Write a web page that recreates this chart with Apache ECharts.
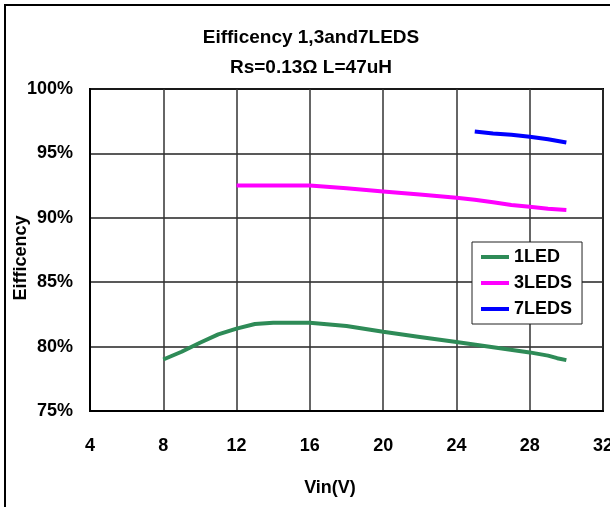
<!DOCTYPE html>
<html>
<head>
<meta charset="utf-8">
<script src="https://cdn.jsdelivr.net/npm/echarts@6/dist/echarts.min.js"></script>
<style>
  html, body { margin: 0; padding: 0; background: #fff; }
  #chart { width: 610px; height: 507px; }
</style>
</head>
<body>
<div id="chart"></div>
<script>
// Vin(V) / efficiency (%) pairs
var led1 = [[8, 79.0], [9, 79.6], [10, 80.3], [11, 80.95], [12, 81.4], [13, 81.75], [14, 81.85],
            [16, 81.85], [18, 81.6], [20, 81.15], [22, 80.75], [24, 80.35], [26, 79.95],
            [28, 79.55], [29, 79.3], [29.5, 79.1], [30, 78.95]];
var led3 = [[12, 92.5], [14, 92.5], [16, 92.5], [18, 92.3], [20, 92.05], [22, 91.8], [24, 91.55],
            [25, 91.4], [26, 91.2], [27, 91.0], [28, 90.85], [29, 90.7], [30, 90.6]];
var led7 = [[25, 96.7], [26, 96.55], [27, 96.45], [28, 96.3], [29, 96.1], [30, 95.85]];

var seriesNames = ['1LED', '3LEDS', '7LEDS'];
var seriesColors = ['#2e8b57', '#ff00ff', '#0000ff'];
var seriesData = [led1, led3, led7];

var font = 'Arial, "Liberation Sans", sans-serif';

var myChart = echarts.init(document.getElementById('chart'));

var option = {
    animation: false,
    backgroundColor: '#fff',
    title: {
        text: 'Eifficency 1,3and7LEDS\nRs=0.13Ω L=47uH',
        left: 306,
        textAlign: 'center',
        top: 18,
        textStyle: {
            fontFamily: font,
            fontWeight: 'bold',
            fontSize: 19,
            lineHeight: 30,
            color: '#000'
        }
    },
    graphic: [{
        type: 'polyline',
        shape: { points: [[5, 520], [5, 5], [620, 5]] },
        style: { stroke: '#000', lineWidth: 2, fill: null }
    }],
    legend: {
        orient: 'vertical',
        left: 472,
        top: 242,
        width: 103,
        backgroundColor: '#fff',
        borderColor: '#222',
        borderWidth: 1,
        padding: [6, 10, 6, 9],
        itemGap: 8,
        itemWidth: 28,
        itemHeight: 4,
        icon: 'rect',
        data: seriesNames,
        textStyle: {
            fontFamily: font,
            fontWeight: 'bold',
            fontSize: 18,
            lineHeight: 18,
            color: '#000'
        }
    },
    grid: {
        left: 90,
        top: 89,
        width: 513,
        height: 322,
        outerBoundsMode: 'none',
        containLabel: false,
        show: true,
        borderColor: '#000',
        borderWidth: 2
    },
    xAxis: {
        type: 'value',
        min: 4,
        max: 32,
        interval: 4,
        name: 'Vin(V)',
        nameLocation: 'middle',
        nameGap: 68,
        nameMoveOverlap: false,
        nameTextStyle: {
            fontFamily: font,
            fontWeight: 'bold',
            fontSize: 18,
            color: '#000',
            padding: [0, 33, 0, 0]
        },
        axisLine: { lineStyle: { color: '#000', width: 2 } },
        axisTick: { show: false },
        axisLabel: {
            margin: 26,
            fontFamily: font,
            fontWeight: 'bold',
            fontSize: 18,
            color: '#000'
        },
        splitLine: { show: true, lineStyle: { color: '#333', width: 1.5 } }
    },
    yAxis: {
        type: 'value',
        min: 75,
        max: 100,
        interval: 5,
        name: 'Eifficency',
        nameLocation: 'middle',
        nameGap: 60,
        nameMoveOverlap: false,
        nameTextStyle: {
            fontFamily: font,
            fontWeight: 'bold',
            fontSize: 18,
            color: '#000',
            padding: [0, 16, 0, 0]
        },
        axisLine: { show: true, lineStyle: { color: '#000', width: 2 } },
        axisTick: { show: false },
        axisLabel: {
            margin: 17,
            formatter: '{value}%',
            fontFamily: font,
            fontWeight: 'bold',
            fontSize: 18,
            color: '#000'
        },
        splitLine: { show: true, lineStyle: { color: '#222', width: 1.5 } }
    },
    series: seriesNames.map(function (name, i) {
        return {
            name: name,
            type: 'line',
            data: seriesData[i],
            showSymbol: false,
            symbol: 'none',
            color: seriesColors[i],
            lineStyle: { width: 4, color: seriesColors[i] }
        };
    })
};

myChart.setOption(option);
</script>
</body>
</html>
